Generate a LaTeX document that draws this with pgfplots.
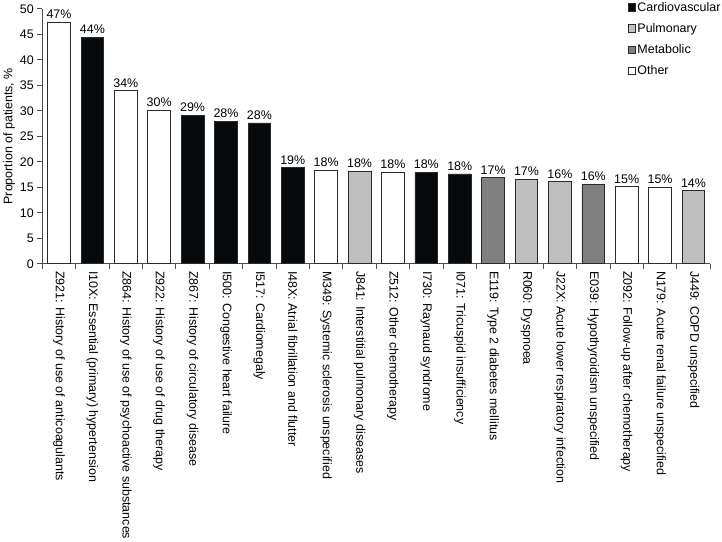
\documentclass[border=0pt]{standalone}
\usepackage{fontspec}
\setmainfont{Liberation Sans}
\usepackage{pgfplots}
\pgfplotsset{compat=1.18}

\definecolor{cardio}{HTML}{060A0C}
\definecolor{pulm}{HTML}{BFBFBF}
\definecolor{metab}{HTML}{808080}
\definecolor{edge}{HTML}{2A2A2A}

\begin{document}
\begin{tikzpicture}[font=\fontsize{12.3bp}{14bp}\selectfont]
\begin{axis}[
  scale only axis, width=660bp, height=252bp,
  xmin=-0.5, xmax=19.5, ymin=0, ymax=50,
  axis lines=left,
  axis line style={-, draw=black!70, line width=0.8bp},
  every tick/.style={draw=black!70, line width=0.8bp},
  /pgf/number format/assume math mode=true,
  ytick={0,5,...,50},
  xtick={0,...,19},
  major x tick style={draw=none},
  minor xtick={-0.5,0.5,...,19.5},
  tick align=outside,
  major tick length=5bp, minor tick length=5bp,
  xticklabels={
    Z921: History of use of anticoagulants,
    I10X: Essential (primary) hypertension,
    Z864: History of use of psychoactive substances,
    Z922: History of use of drug therapy,
    Z867: History of circulatory disease,
    I500: Congestive heart failure,
    I517: Cardiomegaly,
    I48X: Atrial fibrillation and flutter,
    M349: Systemic sclerosis unspecified,
    J841: Interstitial pulmonary diseases,
    Z512: Other chemotherapy,
    I730: Raynaud syndrome,
    I071: Tricuspid insufficiency,
    E119: Type 2 diabetes mellitus,
    R060: Dyspnoea,
    J22X: Acute lower respiratory infection,
    E039: Hypothyroidism unspecified,
    Z092: Follow-up after chemotherapy,
    N179: Acute renal failure unspecified,
    J449: COPD unspecified},
  xticklabel style={rotate=-90, anchor=west, inner sep=2bp},
  ticklabel style={font=\fontsize{12.3bp}{14bp}\selectfont},
  ylabel={Proportion of patients, \%},
  ylabel style={yshift=-2bp, font=\fontsize{12.3bp}{14bp}\selectfont},
  legend style={draw=none, fill=none, at={(1.018,1.035)}, anchor=north east,
    row sep=6.5bp, inner sep=0pt, font=\fontsize{12.3bp}{14bp}\selectfont,
    nodes={inner xsep=1.5bp}},
  legend cell align=left,
  legend image code/.code={\draw[#1] (0bp,-3.6bp) rectangle (7.2bp,3.6bp);},
  every axis plot/.append style={ybar, bar width=0.68, bar shift=0pt,
    draw=edge, line width=0.8bp,
    nodes near coords={\pgfmathprintnumber[fixed,precision=0]{\pgfplotspointmeta}\%},
    every node near coord/.append style={anchor=south, inner sep=3bp, text=black,
      font=\fontsize{12.3bp}{14bp}\selectfont}},
]
\addplot[fill=cardio] coordinates {(1,44.4) (4,29.1) (5,27.9) (6,27.6) (7,18.8) (11,17.9) (12,17.6)};
\addlegendentry{Cardiovascular}
\addplot[fill=pulm] coordinates {(9,18.1) (14,16.6) (15,16.1) (19,14.3)};
\addlegendentry{Pulmonary}
\addplot[fill=metab] coordinates {(13,16.9) (16,15.6)};
\addlegendentry{Metabolic}
\addplot[fill=white] coordinates {(0,47.4) (2,33.9) (3,30.1) (8,18.3) (10,17.9) (17,15.1) (18,15.0)};
\addlegendentry{Other}
\end{axis}
\end{tikzpicture}
\end{document}
